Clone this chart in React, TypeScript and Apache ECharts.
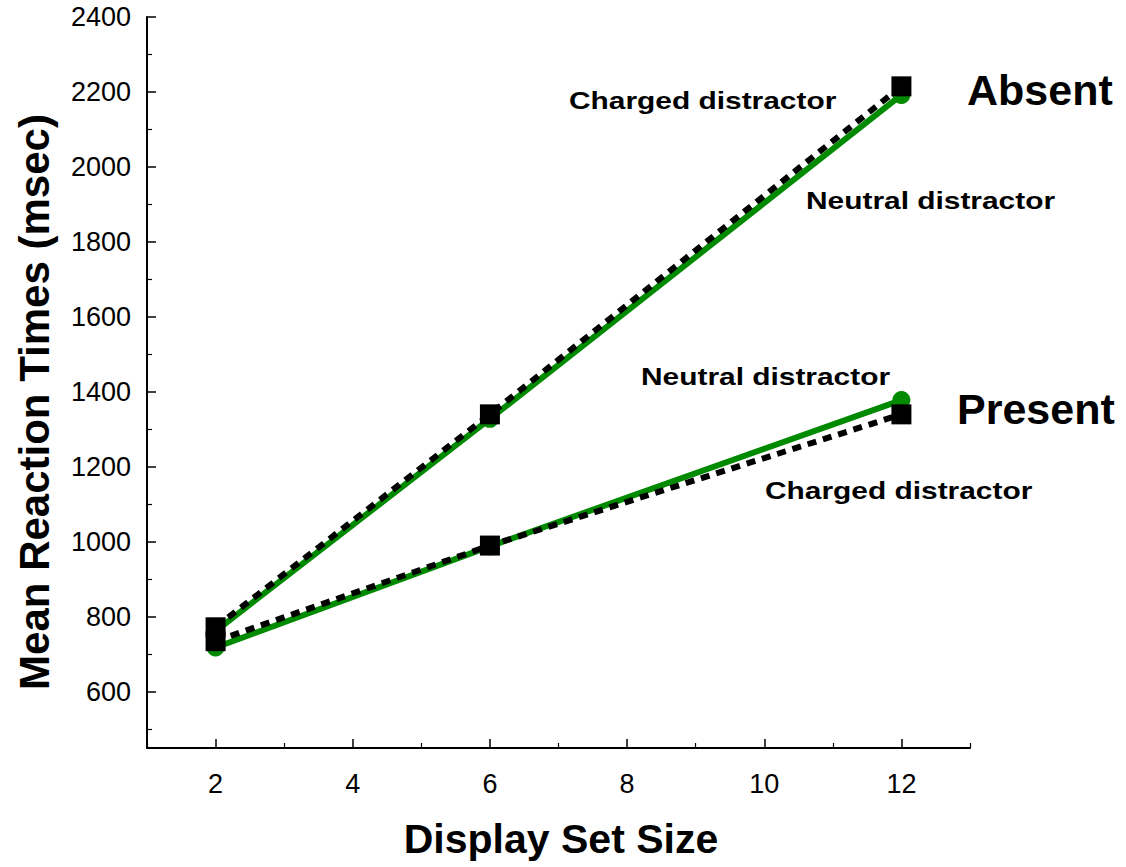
import React, { useEffect, useRef } from "react";
import * as echarts from "echarts";

const setSizes = [2, 6, 12];
const absentNeutral = [762, 1328, 2192];
const absentCharged = [772, 1340, 2215];
const presentNeutral = [718, 988, 1378];
const presentCharged = [735, 990, 1340];

const xMajorTicks = [2, 4, 6, 8, 10, 12];
const xMinorTicks = [1, 3, 5, 7, 9, 11, 13];
const yMajorTicks = [600, 800, 1000, 1200, 1400, 1600, 1800, 2000, 2200, 2400];
const yMinorTicks = [500, 700, 900, 1100, 1300, 1500, 1700, 1900, 2100, 2300];

const xTitle = "Display Set Size";
const yTitle = "Mean Reaction Times (msec)";
const labelCharged = "Charged distractor";
const labelNeutral = "Neutral distractor";
const labelAbsent = "Absent";
const labelPresent = "Present";

const FONT = "'Liberation Sans', Arial, sans-serif";
const GREEN = "#008a00";

function pts(vals: number[]) {
  return setSizes.map((x, i) => [x, vals[i]]);
}

export default function App() {
  const ref = useRef<HTMLDivElement>(null);
  useEffect(() => {
    if (!ref.current) return;
    const chart = echarts.init(ref.current, undefined, { renderer: "svg" });
    const axisText = { color: "#000", fontFamily: FONT, fontSize: 27 };
    const annot = (text: string, x: number, y: number) => ({
      type: "text",
      x,
      y,
      scaleX: 1.3,
      style: {
        text,
        fill: "#000",
        font: `bold 23px ${FONT}`,
        textAlign: "left",
        textVerticalAlign: "middle",
      },
    });
    const big = (text: string, x: number, y: number) => ({
      type: "text",
      x,
      y,
      style: {
        text,
        fill: "#000",
        font: `bold 43px ${FONT}`,
        textAlign: "left",
        textVerticalAlign: "middle",
      },
    });
    const lineSeries = (name: string, vals: number[], neutral: boolean) => ({
      name,
      type: "line",
      data: pts(vals),
      xAxisIndex: 0,
      yAxisIndex: 0,
      symbol: neutral ? "circle" : "rect",
      symbolSize: neutral ? 18 : 20,
      z: neutral ? 2 : 3,
      itemStyle: { color: neutral ? GREEN : "#000" },
      lineStyle: neutral
        ? { color: GREEN, width: 6, type: "solid" }
        : { color: "#000", width: 6, type: [9, 7] },
    });
    chart.setOption({
      animation: false,
      backgroundColor: "#fff",
      grid: { left: 147, top: 17, width: 823, height: 731, containLabel: false },
      xAxis: [
        {
          type: "value",
          min: 1,
          max: 13,
          position: "bottom",
          axisLine: { show: true, onZero: false, lineStyle: { color: "#000", width: 2 } },
          axisTick: { show: true, inside: true, length: 9, customValues: xMajorTicks, lineStyle: { color: "#000", width: 1.5 } },
          axisLabel: { ...axisText, margin: 22, customValues: xMajorTicks },
          splitLine: { show: false },
        },
        {
          type: "value",
          min: 1,
          max: 13,
          position: "bottom",
          axisLine: { show: false, onZero: false },
          axisTick: { show: true, inside: true, length: 5, customValues: xMinorTicks, lineStyle: { color: "#000", width: 1.2 } },
          axisLabel: { show: false },
          splitLine: { show: false },
        },
      ],
      yAxis: [
        {
          type: "value",
          min: 450,
          max: 2400,
          position: "left",
          axisLine: { show: true, onZero: false, lineStyle: { color: "#000", width: 2 } },
          axisTick: { show: true, inside: true, length: 9, customValues: yMajorTicks, lineStyle: { color: "#000", width: 1.5 } },
          axisLabel: { ...axisText, margin: 16, customValues: yMajorTicks, formatter: (v: number) => String(v) },
          splitLine: { show: false },
        },
        {
          type: "value",
          min: 450,
          max: 2400,
          position: "left",
          axisLine: { show: false, onZero: false },
          axisTick: { show: true, inside: true, length: 5, customValues: yMinorTicks, lineStyle: { color: "#000", width: 1.2 } },
          axisLabel: { show: false },
          splitLine: { show: false },
        },
      ],
      series: [
        lineSeries("Absent neutral", absentNeutral, true),
        lineSeries("Present neutral", presentNeutral, true),
        lineSeries("Absent charged", absentCharged, false),
        lineSeries("Present charged", presentCharged, false),
      ],
      graphic: [
        annot(labelCharged, 569, 101),
        annot(labelNeutral, 806, 201),
        annot(labelNeutral, 641, 377),
        annot(labelCharged, 765, 491),
        big(labelAbsent, 967, 90),
        big(labelPresent, 957, 409),
        {
          type: "text",
          x: 561,
          y: 839,
          style: {
            text: xTitle,
            fill: "#000",
            font: `bold 41px ${FONT}`,
            textAlign: "center",
            textVerticalAlign: "middle",
          },
        },
        {
          type: "text",
          x: 34,
          y: 402,
          rotation: Math.PI / 2,
          style: {
            text: yTitle,
            fill: "#000",
            font: `bold 42px ${FONT}`,
            textAlign: "center",
            textVerticalAlign: "middle",
          },
        },
      ],
    });
    return () => chart.dispose();
  }, []);
  return (
    <div
      ref={ref}
      style={{ position: "fixed", left: 0, top: 0, width: 1126, height: 867, background: "#fff" }}
    />
  );
}
